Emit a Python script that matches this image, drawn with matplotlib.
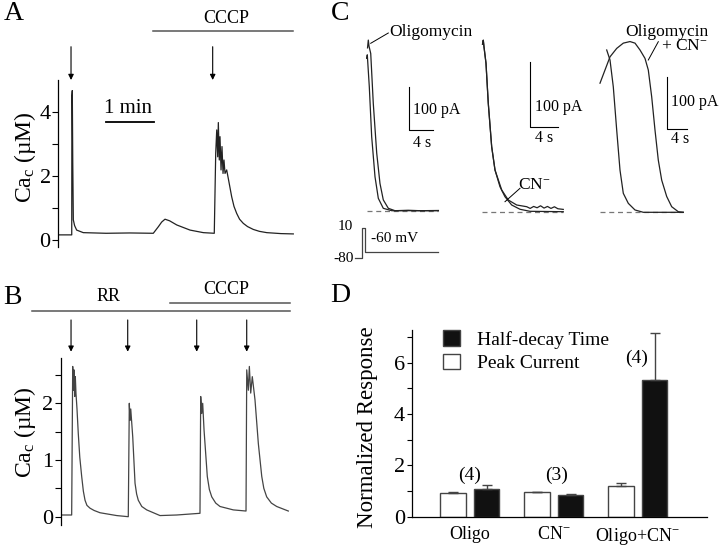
import numpy as np
import matplotlib
matplotlib.use('Agg')
import matplotlib.pyplot as plt
from matplotlib.lines import Line2D
from matplotlib.patches import Patch

plt.rcParams['font.family'] = ['Liberation Serif', 'DejaVu Serif']
plt.rcParams['mathtext.fontset'] = 'custom'
plt.rcParams['mathtext.rm'] = 'Liberation Serif'
plt.rcParams['mathtext.it'] = 'Liberation Serif:italic'
plt.rcParams['mathtext.default'] = 'regular'

# ---- panel A: Ca_c trace (s, uM)
a_time = [0, 16.9, 17.1, 17.6, 18.2, 18.9, 20.5, 23.1, 31.4, 60, 90,
          119.5, 126, 130, 134.2, 140, 149, 165.7, 182.4, 196.2,
          198, 199.3, 200.5, 201.3, 202.5, 203.4, 204.7, 205.9, 207.2, 208.4, 209.7, 211.8,
          214, 218.1, 221, 224.4, 228, 232.7, 238, 245.3, 253, 262.2, 280, 295.6]
a_ca = [0.16, 0.16, 4.5, 4.67, 2.4, 0.63, 0.45, 0.31, 0.23, 0.21, 0.22,
        0.21, 0.42, 0.56, 0.65, 0.6, 0.47, 0.31, 0.23, 0.21,
        2.71, 3.44, 2.6, 3.67, 2.5, 3.23, 2.19, 2.92, 2.08, 2.5, 2.08, 2.19,
        1.9, 1.35, 1.05, 0.83, 0.65, 0.52, 0.42, 0.33, 0.27, 0.23, 0.2, 0.19]
a_arrows = [16, 194.2]
a_cccp = [118.8, 294.9]

# ---- panel B: Ca_c trace with RR (s, uM)
b_time = [0, 13.8, 15.1, 15.9, 16.7, 17.6, 18.4, 19.2, 20.5, 22.1, 24, 26.4, 28.5, 30.6, 33,
          36.9, 42, 49.4, 70.4, 85,
          86.3, 87.2, 88.1, 90.6, 93.5, 95.5, 97.6, 102, 108.2, 124.9, 145.9, 175.2,
          176.1, 177.4, 178.6, 180.3, 184.4, 187, 190, 195, 200.4, 217.1, 233.1,
          234, 236, 237.3, 239, 241, 244.4, 248.6, 252.9, 255.5, 259.1, 265, 271.7, 286.3]
b_ca = [0.03, 0.03, 2.65, 2.23, 2.59, 2.12, 2.47, 2.18, 1.9, 1.47, 1.05, 0.71, 0.45, 0.29, 0.2,
        0.15, 0.11, 0.07, 0.02, 0.0,
        2.0, 1.7, 1.9, 1.41, 0.59, 0.4, 0.29, 0.18, 0.12, 0.02, 0.03, 0.06,
        2.12, 1.82, 2.0, 1.53, 0.71, 0.48, 0.35, 0.24, 0.18, 0.12, 0.1,
        2.59, 2.23, 2.65, 2.18, 2.47, 2.06, 1.29, 0.71, 0.5, 0.35, 0.24, 0.18, 0.1]
b_arrows = [13, 84.3, 171.1, 234]
b_rr = [-36.5, 288.5]
b_cccp = [137.5, 288.5]

# ---- panel C: currents (s, pA)
c1_time_a = [0.14, 0.27, 0.39, 0.68, 1.11, 1.69, 2.24, 2.80, 3.65, 4.78, 7, 9, 12.1]
c1_cur_a = [376, 394, 380, 363, 248, 133, 63, 25, 5.5, 0, 1, 0, 0.5]
c1_time_b = [0, 0.1, 0.44, 0.84, 1.40, 1.96, 2.80, 4.22, 12.1]
c1_cur_b = [352, 360, 286, 171, 78.5, 28.6, 5.5, 0, 0]

c2_time_a = [0.12, 0.23, 0.33, 0.62, 0.95, 1.44, 1.92, 2.64, 3.36, 4.33, 5.53, 6.97, 11.78]
c2_cur_a = [255, 261, 251, 226, 165, 99, 63.5, 38, 22.8, 10.2, 3.7, 0.6, 0]
c2_time_b = [0.12, 0.23, 0.33, 0.62, 0.95, 1.44, 1.92, 2.89, 3.84, 5.05, 6.5, 7.0, 7.5,
             8.0, 8.5, 9.0, 9.5, 10.0, 10.5, 11.0, 11.78]
c2_cur_b = [255, 261, 251, 226, 165, 99, 63.5, 33, 17.8, 10.2, 7.6, 5, 8,
            6, 9, 5.5, 8, 5, 7.5, 4.5, 3.5]

c3_time_a = [1.34, 2.0, 2.66, 3.34, 4.0, 4.66, 5.66, 7.0, 8.66, 16.66]
c3_cur_a = [308, 289, 238, 156, 80, 36, 17, 4.4, 0, 0]
c3_time_b = [0, 1.0, 2.0, 3.34, 4.66, 6.0, 7.0, 8.0, 9.0, 9.66, 10.34, 11.0, 11.66,
             12.34, 13.34, 14.34, 15.66, 16.66]
c3_cur_b = [245, 270, 295, 311, 321, 324, 321, 308, 292, 270, 219, 156, 99,
            61, 30, 10.6, 1.1, 0]

prot_time = [0, 1.13, 1.13, 1.69, 1.69, 14.06]
prot_mv = [-80, -80, 10, 10, -60, -60]

# ---- panel D: normalized responses
groups = ['Oligo', 'CN$^{-}$', 'Oligo+CN$^{-}$']
peak_current = [0.91, 0.95, 1.20]
peak_err = [0.04, 0.02, 0.12]
half_decay = [1.07, 0.86, 5.32]
half_err = [0.16, 0.04, 1.82]
n_cells = ['(4)', '(3)', '(4)']

W, H = 720, 550
fig = plt.figure(figsize=(7.2, 5.5), dpi=100)
TRACE = '#222222'
GRAY = '#555555'


def px_axes(box, origin, scale):
    """Axes placed by pixel box, data origin at pixel `origin`, `scale` px per unit."""
    x0, x1, y0, y1 = box
    ox, oy = origin
    sx, sy = scale
    ax = fig.add_axes([x0 / W, 1 - y1 / H, (x1 - x0) / W, (y1 - y0) / H])
    ax.set_xlim((x0 - ox) / sx, (x1 - ox) / sx)
    ax.set_ylim((oy - y1) / sy, (oy - y0) / sy)
    ax.patch.set_visible(False)
    return ax


def fig_text(x, y, s, **kw):
    fig.text(x / W, 1 - y / H, s, **kw)


def fig_line(xs, ys, **kw):
    fig.add_artist(Line2D([x / W for x in xs], [1 - y / H for y in ys], **kw))


def left_axis(ax, major, minor):
    for s in ['top', 'right', 'bottom']:
        ax.spines[s].set_visible(False)
    ax.spines['left'].set_linewidth(0.9)
    ax.set_xticks([])
    ax.set_yticks(major)
    ax.set_yticks(minor, minor=True)
    ax.tick_params(axis='y', which='both', direction='out', length=4, width=0.8,
                   labelsize=16, pad=1.5)


def arrows(ax, times, y0, y1):
    for t in times:
        ax.annotate('', xy=(t, y1), xytext=(t, y0), annotation_clip=False,
                    arrowprops=dict(arrowstyle='-|>', color='k', lw=0.8,
                                    mutation_scale=8, shrinkA=0, shrinkB=0))


# ---------------- A
axa = px_axes((58.3, 300, 80, 246.7), (58.3, 240), (47.7 / 60, 32))
left_axis(axa, [0, 2, 4], [1, 3])
axa.plot(a_time, a_ca, color=TRACE, lw=0.9)
arrows(axa, a_arrows, 6.04, 5.0)
axa.plot(a_cccp, [6.53, 6.53], color=GRAY, lw=1.1, clip_on=False)
axa.text(210.7, 6.91, 'CCCP', ha='center', va='center', fontsize=13)
axa.plot([60, 120], [3.69, 3.69], color='k', lw=1.3)
axa.text(88, 4.12, '1 min', ha='center', va='center', fontsize=15)
fig_text(25, 157, 'Ca$_c$ (µM)', rotation=90, ha='center', va='center', fontsize=17)
fig_text(14, 14, 'A', ha='center', va='center', fontsize=20)

# ---------------- B
axb = px_axes((60.7, 300, 358.3, 525), (60.7, 516.7), (47.7 / 60, 56.7))
left_axis(axb, [0, 1, 2], [0.5, 1.5, 2.5])
axb.plot(b_time, b_ca, color='#444444', lw=0.9)
arrows(axb, b_arrows, 3.47, 2.91)
axb.plot(b_rr, [3.63, 3.63], color=GRAY, lw=1.1, clip_on=False)
axb.plot(b_cccp, [3.77, 3.77], color=GRAY, lw=1.1, clip_on=False)
axb.text(59.9, 3.88, 'RR', ha='center', va='center', fontsize=13)
axb.text(207.7, 4.0, 'CCCP', ha='center', va='center', fontsize=13)
fig_text(25, 432, 'Ca$_c$ (µM)', rotation=90, ha='center', va='center', fontsize=17)
fig_text(12, 298, 'B', ha='center', va='center', fontsize=20)

# ---------------- C
fig_text(340, 13, 'C', ha='center', va='center', fontsize=20)
c_specs = [
    ((360, 445, 25, 220), (366.7, 210.7), (23.7 / 4, 43.3 / 100),
     [(c1_time_a, c1_cur_a), (c1_time_b, c1_cur_b)], (0, 12.1),
     (7.14, 186.4), (7.87, 232.6), (7.87, 155.7)),
    ((475, 570, 25, 220), (481.7, 211.7), (27.7 / 4, 65.7 / 100),
     [(c2_time_a, c2_cur_a), (c2_time_b, c2_cur_b)], (0, 11.78),
     (6.97, 128.5), (7.7, 159.8), (7.7, 111.7)),
    ((595, 700, 25, 220), (600, 212.3), (20 / 4, 52.7 / 100),
     [(c3_time_a, c3_cur_a), (c3_time_b, c3_cur_b)], (0, 16.66),
     (13.46, 157.5), (14.2, 209.9), (14.2, 138.5)),
]
for box, origin, scale, traces, base, bar0, pa_pos, s_pos in c_specs:
    ax = px_axes(box, origin, scale)
    ax.axis('off')
    ax.plot(base, [0, 0], color='#777777', lw=0.9, dashes=(4, 3))
    for t, i in traces:
        ax.plot(t, i, color=TRACE, lw=0.9)
    ax.plot([bar0[0], bar0[0], bar0[0] + 4], [bar0[1] + 100, bar0[1], bar0[1]],
            color='k', lw=0.8, clip_on=False)
    ax.text(pa_pos[0], pa_pos[1], '100 pA', ha='left', va='center', fontsize=11.5,
            clip_on=False)
    ax.text(s_pos[0], s_pos[1], '4 s', ha='left', va='center', fontsize=11.5,
            clip_on=False)

fig_text(389.3, 31.5, 'Oligomycin', ha='left', va='center', fontsize=12.5)
fig_line([388.3, 370.7], [33, 43.3], color='k', lw=0.7)
fig_text(518.3, 185, 'CN$^{-}$', ha='left', va='center', fontsize=12.5)
fig_line([520, 505], [188.3, 201.7], color='k', lw=0.7)
fig_text(708, 31.5, 'Oligomycin', ha='right', va='center', fontsize=12.5)
fig_text(708, 46.5, '+ CN$^{-}$', ha='right', va='center', fontsize=12.5)
fig_line([658.3, 648.3], [41.7, 60], color='k', lw=0.7)

axp = px_axes((350, 445, 220, 265), (355, 231.7), (23.7 / 4, 1 / 3))
axp.axis('off')
axp.plot(prot_time, prot_mv, color='#444444', lw=0.9)
fig_text(353.3, 226.7, '10', ha='right', va='center', fontsize=11)
fig_text(353.3, 258.3, '-80', ha='right', va='center', fontsize=11)
fig_text(371, 238.3, '-60 mV', ha='left', va='center', fontsize=11)

# ---------------- D
fig_text(340, 296, 'D', ha='center', va='center', fontsize=20)
axd = px_axes((411.7, 706.7, 330, 516.7), (469.7, 516.7), (84, 25.67))
x = np.arange(len(groups))
ekw = dict(ecolor='#444444', elinewidth=1, capsize=3.5, capthick=1)
axd.bar(x - 0.2, peak_current, 0.30, color='white', edgecolor='#444444', lw=1,
        yerr=[[0] * 3, peak_err], error_kw=ekw)
axd.bar(x + 0.2, half_decay, 0.30, color='#111111', edgecolor='#444444', lw=1,
        yerr=[[0] * 3, half_err], error_kw=ekw)
for s in ['top', 'right']:
    axd.spines[s].set_visible(False)
axd.spines['left'].set_linewidth(0.9)
axd.spines['bottom'].set_linewidth(0.9)
axd.set_yticks([0, 2, 4, 6])
axd.set_yticks([1, 3, 5, 7], minor=True)
axd.tick_params(axis='y', which='both', direction='out', length=3.5, width=0.8,
                labelsize=16, pad=1.5)
axd.set_xticks(x, groups)
axd.tick_params(axis='x', length=0, labelsize=13, pad=7)
for xi, yi, lab in zip([0, 1.04, 1.99], [1.62, 1.62, 6.18], n_cells):
    axd.text(xi, yi, lab, ha='center', va='center', fontsize=14)
handles = [Patch(facecolor='#111111', edgecolor='#444444'),
           Patch(facecolor='white', edgecolor='#444444')]
axd.legend(handles, ['Half-decay Time', 'Peak Current'], loc='upper left',
           bbox_to_anchor=(0.106, 1.0), frameon=False, fontsize=14,
           handlelength=0.88, handleheight=0.88, handletextpad=0.86,
           labelspacing=0.25, borderpad=0, borderaxespad=0)
fig_text(368, 427.5, 'Normalized Response', rotation=90, ha='center', va='center',
         fontsize=16.5)

fig.savefig('out.png', dpi=100)
